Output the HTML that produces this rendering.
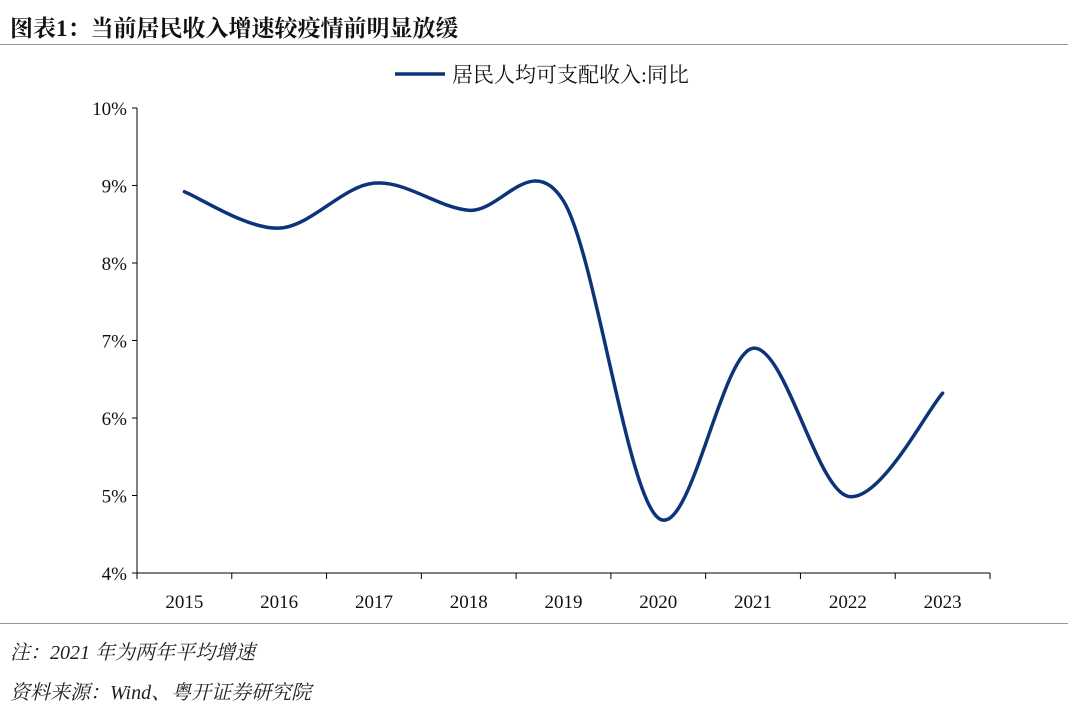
<!DOCTYPE html>
<html><head><meta charset="utf-8"><style>
body{margin:0;background:#fff;width:1080px;height:710px;overflow:hidden;font-family:"Liberation Serif","Noto Serif CJK SC",serif;}
</style></head><body>
<div style="position:absolute;left:10px;top:10px;font-size:23px;font-weight:bold;font-family:'Liberation Serif','Noto Serif CJK SC',serif;color:#111">图表1：当前居民收入增速较疫情前明显放缓</div>
<div style="position:absolute;left:0;top:44px;width:1068px;height:1px;background:#999"></div>
<svg width="1080" height="710" style="position:absolute;left:0;top:0" xmlns="http://www.w3.org/2000/svg">
<g id="g"></g>
</svg>
<div style="position:absolute;left:0;top:623px;width:1068px;height:1px;background:#999"></div>
<div style="position:absolute;left:10px;top:636px;font-size:20px;font-style:italic;color:#222">注：2021 年为两年平均增速</div>
<div style="position:absolute;left:10px;top:676px;font-size:20px;font-style:italic;color:#222">资料来源：Wind、粤开证券研究院</div>
<script>
const categories=["2015","2016","2017","2018","2019","2020","2021","2022","2023"];
const values=[8.92,8.45,9.03,8.68,8.8,4.71,6.9,4.99,6.32];
const yTicks=[4,5,6,7,8,9,10];
const ns="http://www.w3.org/2000/svg";
const g=document.getElementById("g");
const x0=137,x1=990,step=(x1-x0)/categories.length;
const X=i=>x0+step*(i+0.5);
const Y=v=>573-(v-4)*77.5;
function mk(t,a,txt){const e=document.createElementNS(ns,t);for(const k in a)e.setAttribute(k,a[k]);if(txt!==undefined)e.textContent=txt;g.appendChild(e);return e;}
let e=mk("line",{x1:x0,y1:Y(10),x2:x0,y2:Y(4),stroke:"#000","stroke-width":1});


e=mk("line",{x1:x0,y1:Y(4),x2:x1,y2:Y(4),stroke:"#000","stroke-width":1});


yTicks.forEach(v=>{
 let t=mk("line",{x1:x0-5,y1:Y(v),x2:x0,y2:Y(v),stroke:"#000"});
 
 
 let l=mk("text",{x:x0-10,y:Y(v)+7,"text-anchor":"end","font-size":19,fill:"#111"},v+"%");
 
 
});
for(let i=0;i<=categories.length;i++){
 let t=mk("line",{x1:x0+step*i,y1:Y(4),x2:x0+step*i,y2:Y(4)+6,stroke:"#000"});
 
 
}
categories.forEach((c,i)=>{
 let l=mk("text",{x:X(i),y:608,"text-anchor":"middle","font-size":19,fill:"#111"},c);
 
 
});
const pts=values.map((v,i)=>[X(i),Y(v)]);
let d="M"+pts[0][0]+","+pts[0][1];
for(let i=0;i<pts.length-1;i++){
 const p0=pts[Math.max(i-1,0)],p1=pts[i],p2=pts[i+1],p3=pts[Math.min(i+2,pts.length-1)];
 const c1=[p1[0]+(p2[0]-p0[0])/6,p1[1]+(p2[1]-p0[1])/6];
 const c2=[p2[0]-(p3[0]-p1[0])/6,p2[1]-(p3[1]-p1[1])/6];
 d+=" C"+c1+" "+c2+" "+p2;
}
e=mk("path",{d:d,fill:"none",stroke:"#0d3478","stroke-width":3.5,"stroke-linecap":"round"});


e=mk("line",{x1:395,y1:74,x2:445,y2:74,stroke:"#0d3478","stroke-width":3.5});


e=mk("text",{x:452,y:82,"font-size":21,fill:"#111"},"居民人均可支配收入:同比");


</script>
</body></html>
